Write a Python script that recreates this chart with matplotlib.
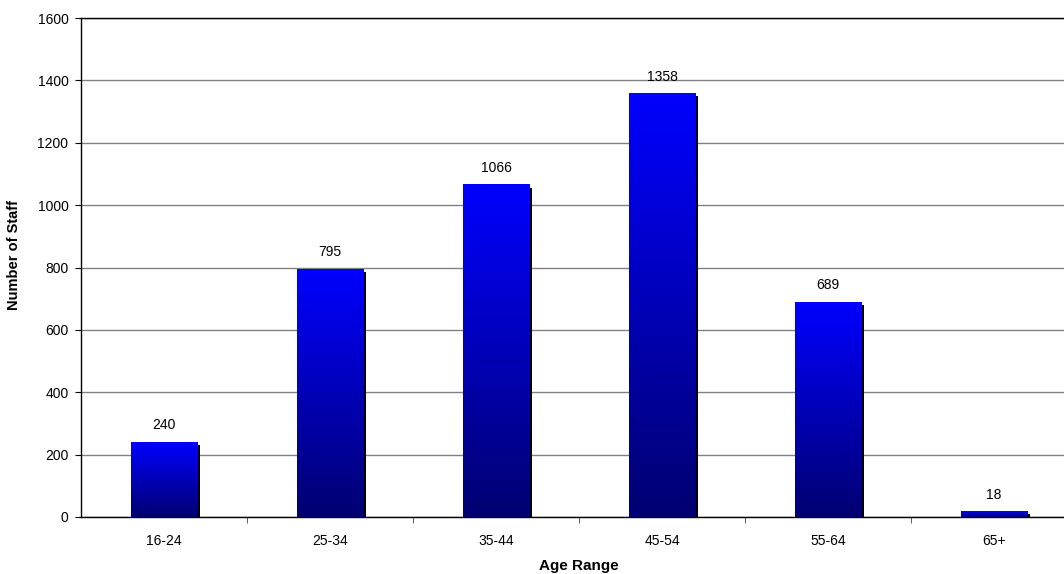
import numpy as np
import matplotlib
matplotlib.use('Agg')
import matplotlib.pyplot as plt
from matplotlib.colors import LinearSegmentedColormap

plt.rcParams['font.family'] = ['Liberation Sans', 'DejaVu Sans']

# Staff numbers per age band
age_ranges = ['16-24', '25-34', '35-44', '45-54', '55-64', '65+']
staff_counts = [240, 795, 1066, 1358, 689, 18]

# Plot settings
W, H, DPI = 1064, 574, 100
bar_w = 0.4
grad = LinearSegmentedColormap.from_list('bluegrad', ['#000070', '#0000ff'])

fig = plt.figure(figsize=(W / DPI, H / DPI), dpi=DPI)
ax = fig.add_axes([81 / W, 57 / H, 996 / W, 499 / H])
ax.set_xlim(-0.5, len(age_ranges) - 0.5)
ax.set_ylim(0, 1600)

# shadow offsets in data units (about 3 px)
dx = 3 * (len(age_ranges)) / 996.0
dy = 3 * 1600 / 499.0

ramp = np.linspace(0, 1, 256).reshape(-1, 1)
for i, v in enumerate(staff_counts):
    x0 = i - bar_w / 2
    # drop shadow
    ax.add_patch(plt.Rectangle((x0 + dx, 0), bar_w, max(v - dy, 0),
                               facecolor='black', edgecolor='none', zorder=2))
    # gradient bar body
    ax.imshow(ramp, cmap=grad, origin='lower', aspect='auto',
              extent=[x0, x0 + bar_w, 0, v], zorder=3, interpolation='bilinear')
    ax.annotate(str(v), (i, v), xytext=(0, 7), textcoords='offset points',
                ha='center', va='bottom', fontsize=10)

ax.set_xlim(-0.5, len(age_ranges) - 0.5)
ax.set_ylim(0, 1600)

# horizontal gridlines
ax.set_yticks(np.arange(0, 1601, 200))
ax.yaxis.grid(True, color='#808080', linewidth=1)
ax.set_axisbelow(True)

ax.set_xticks(range(len(age_ranges)))
ax.set_xticklabels(age_ranges)
ax.set_xticks(np.arange(0.5, len(age_ranges) - 0.5, 1), minor=True)
ax.tick_params(axis='x', which='major', length=0, pad=12, labelsize=10)
ax.tick_params(axis='x', which='minor', length=4, color='#404040')
ax.tick_params(axis='y', length=4, pad=5, labelsize=10)

for side in ['left', 'bottom', 'top']:
    ax.spines[side].set_color('black')
    ax.spines[side].set_linewidth(1)
ax.spines['right'].set_visible(False)

ax.set_xlabel('Age Range', fontsize=11, fontweight='bold', labelpad=8)
ax.set_ylabel('Number of Staff', fontsize=10.5, fontweight='bold')
ax.yaxis.set_label_coords(-0.06, 0.525)

fig.savefig('out.png', dpi=DPI)
